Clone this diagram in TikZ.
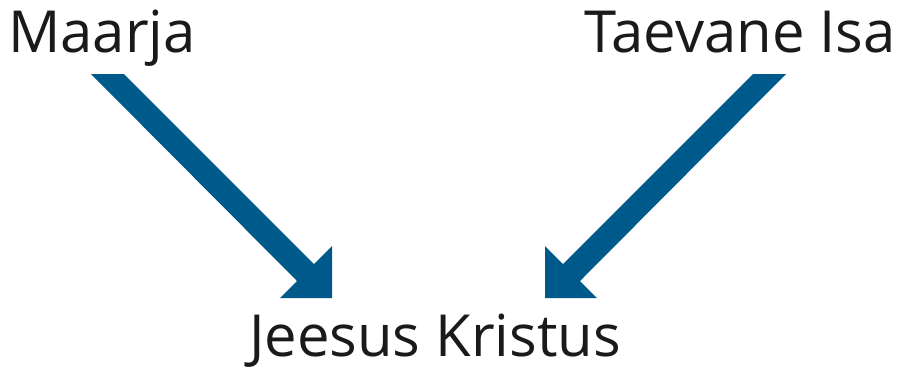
\documentclass[tikz,border=0pt]{standalone}
\usepackage{fontspec}
\setmainfont{Open Sans}
\definecolor{arrowblue}{HTML}{00598B}
\definecolor{txt}{HTML}{1A1A1A}
\begin{document}
\begin{tikzpicture}[x=1pt,y=-1pt,
  lbl/.style={inner sep=0pt,font=\fontsize{58}{62}\selectfont,text=txt},
  bigarrow/.style={fill=arrowblue,draw=none}]
\useasboundingbox (0,0) rectangle (899,368);
\node[lbl,anchor=base west] (maarja) at (8,52) {Maarja};
\node[lbl,anchor=base east] (isa) at (896,52) {Taevane Isa};
\node[lbl,anchor=base] (jeesus) at (435,356) {Jeesus Kristus};
% left arrow
\coordinate (la1) at (91,74);
\coordinate (la2) at (124,74);
\coordinate (la3) at (314,264);
\coordinate (la4) at (332,246);
\coordinate (la5) at (332,298);
\coordinate (la6) at (280,298);
\coordinate (la7) at (297,281);
\fill[bigarrow] (la1) -- (la2) -- (la3) -- (la4) -- (la5) -- (la6) -- (la7) -- cycle;
% right arrow
\coordinate (ra1) at (786,74);
\coordinate (ra2) at (753,74);
\coordinate (ra3) at (563,264);
\coordinate (ra4) at (545,246);
\coordinate (ra5) at (545,298);
\coordinate (ra6) at (597,298);
\coordinate (ra7) at (580,281);
\fill[bigarrow] (ra1) -- (ra2) -- (ra3) -- (ra4) -- (ra5) -- (ra6) -- (ra7) -- cycle;
\end{tikzpicture}
\end{document}
